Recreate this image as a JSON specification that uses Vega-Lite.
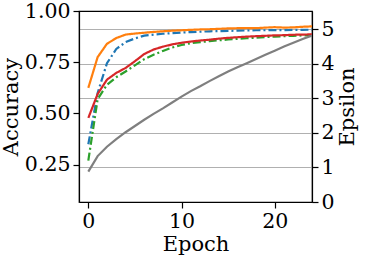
{
  "$schema": "https://vega.github.io/schema/vega-lite/v6.json",
  "width": 233,
  "height": 191,
  "autosize": {"type": "none"},
  "padding": {"left": 79, "top": 11, "right": 59, "bottom": 64},
  "background": "white",
  "config": {
    "font": "DejaVu Serif",
    "view": {"stroke": "black", "strokeWidth": 1.2},
    "axis": {
      "labelFont": "DejaVu Serif",
      "titleFont": "DejaVu Serif",
      "labelFontSize": 20.5,
      "titleFontSize": 21,
      "titleFontWeight": "normal",
      "labelColor": "black",
      "titleColor": "black",
      "domainColor": "black",
      "domainWidth": 1.2,
      "tickColor": "black",
      "tickWidth": 1.2,
      "tickSize": 6,
      "labelPadding": 3,
      "grid": false,
      "gridColor": "#b0b0b0",
      "gridWidth": 1.2
    }
  },
  "datasets": {
    "acc": [
      {"epoch":0,"model":"A","acc":0.35},{"epoch":1,"model":"A","acc":0.60},{"epoch":2,"model":"A","acc":0.745},{"epoch":3,"model":"A","acc":0.815},{"epoch":4,"model":"A","acc":0.848},{"epoch":5,"model":"A","acc":0.866},{"epoch":6,"model":"A","acc":0.88},{"epoch":7,"model":"A","acc":0.885},{"epoch":8,"model":"A","acc":0.889},{"epoch":9,"model":"A","acc":0.892},{"epoch":10,"model":"A","acc":0.895},{"epoch":11,"model":"A","acc":0.897},{"epoch":12,"model":"A","acc":0.899},{"epoch":13,"model":"A","acc":0.901},{"epoch":14,"model":"A","acc":0.902},{"epoch":15,"model":"A","acc":0.903},{"epoch":16,"model":"A","acc":0.904},{"epoch":17,"model":"A","acc":0.905},{"epoch":18,"model":"A","acc":0.906},{"epoch":19,"model":"A","acc":0.906},{"epoch":20,"model":"A","acc":0.907},{"epoch":21,"model":"A","acc":0.907},{"epoch":22,"model":"A","acc":0.908},{"epoch":23,"model":"A","acc":0.908},{"epoch":24,"model":"A","acc":0.909},
      {"epoch":0,"model":"B","acc":0.625},{"epoch":1,"model":"B","acc":0.775},{"epoch":2,"model":"B","acc":0.84},{"epoch":3,"model":"B","acc":0.868},{"epoch":4,"model":"B","acc":0.885},{"epoch":5,"model":"B","acc":0.89},{"epoch":6,"model":"B","acc":0.894},{"epoch":7,"model":"B","acc":0.898},{"epoch":8,"model":"B","acc":0.901},{"epoch":9,"model":"B","acc":0.904},{"epoch":10,"model":"B","acc":0.906},{"epoch":11,"model":"B","acc":0.908},{"epoch":12,"model":"B","acc":0.91},{"epoch":13,"model":"B","acc":0.911},{"epoch":14,"model":"B","acc":0.913},{"epoch":15,"model":"B","acc":0.915},{"epoch":16,"model":"B","acc":0.916},{"epoch":17,"model":"B","acc":0.917},{"epoch":18,"model":"B","acc":0.916},{"epoch":19,"model":"B","acc":0.919},{"epoch":20,"model":"B","acc":0.921},{"epoch":21,"model":"B","acc":0.919},{"epoch":22,"model":"B","acc":0.92},{"epoch":23,"model":"B","acc":0.923},{"epoch":24,"model":"B","acc":0.925},
      {"epoch":0,"model":"C","acc":0.27},{"epoch":1,"model":"C","acc":0.57},{"epoch":2,"model":"C","acc":0.64},{"epoch":3,"model":"C","acc":0.677},{"epoch":4,"model":"C","acc":0.705},{"epoch":5,"model":"C","acc":0.735},{"epoch":6,"model":"C","acc":0.765},{"epoch":7,"model":"C","acc":0.787},{"epoch":8,"model":"C","acc":0.805},{"epoch":9,"model":"C","acc":0.822},{"epoch":10,"model":"C","acc":0.834},{"epoch":11,"model":"C","acc":0.843},{"epoch":12,"model":"C","acc":0.848},{"epoch":13,"model":"C","acc":0.853},{"epoch":14,"model":"C","acc":0.857},{"epoch":15,"model":"C","acc":0.861},{"epoch":16,"model":"C","acc":0.864},{"epoch":17,"model":"C","acc":0.867},{"epoch":18,"model":"C","acc":0.87},{"epoch":19,"model":"C","acc":0.873},{"epoch":20,"model":"C","acc":0.875},{"epoch":21,"model":"C","acc":0.877},{"epoch":22,"model":"C","acc":0.879},{"epoch":23,"model":"C","acc":0.881},{"epoch":24,"model":"C","acc":0.882},
      {"epoch":0,"model":"D","acc":0.478},{"epoch":1,"model":"D","acc":0.595},{"epoch":2,"model":"D","acc":0.665},{"epoch":3,"model":"D","acc":0.698},{"epoch":4,"model":"D","acc":0.722},{"epoch":5,"model":"D","acc":0.755},{"epoch":6,"model":"D","acc":0.79},{"epoch":7,"model":"D","acc":0.812},{"epoch":8,"model":"D","acc":0.826},{"epoch":9,"model":"D","acc":0.837},{"epoch":10,"model":"D","acc":0.845},{"epoch":11,"model":"D","acc":0.851},{"epoch":12,"model":"D","acc":0.856},{"epoch":13,"model":"D","acc":0.86},{"epoch":14,"model":"D","acc":0.865},{"epoch":15,"model":"D","acc":0.869},{"epoch":16,"model":"D","acc":0.872},{"epoch":17,"model":"D","acc":0.875},{"epoch":18,"model":"D","acc":0.877},{"epoch":19,"model":"D","acc":0.879},{"epoch":20,"model":"D","acc":0.881},{"epoch":21,"model":"D","acc":0.882},{"epoch":22,"model":"D","acc":0.884},{"epoch":23,"model":"D","acc":0.885},{"epoch":24,"model":"D","acc":0.886}
    ],
    "eps": [
      {"epoch":0,"eps":0.88},{"epoch":1,"eps":1.33},{"epoch":2,"eps":1.6},{"epoch":3,"eps":1.82},{"epoch":4,"eps":2.02},{"epoch":5,"eps":2.2},{"epoch":6,"eps":2.38},{"epoch":7,"eps":2.55},{"epoch":8,"eps":2.71},{"epoch":9,"eps":2.88},{"epoch":10,"eps":3.05},{"epoch":11,"eps":3.21},{"epoch":12,"eps":3.35},{"epoch":13,"eps":3.5},{"epoch":14,"eps":3.64},{"epoch":15,"eps":3.78},{"epoch":16,"eps":3.9},{"epoch":17,"eps":4.02},{"epoch":18,"eps":4.14},{"epoch":19,"eps":4.26},{"epoch":20,"eps":4.38},{"epoch":21,"eps":4.5},{"epoch":22,"eps":4.61},{"epoch":23,"eps":4.72},{"epoch":24,"eps":4.82}
    ]
  },
  "layer": [
    {
      "data": {"name": "acc"},
      "mark": {"type": "line", "strokeWidth": 2.2, "clip": true},
      "encoding": {
        "x": {"field": "epoch", "type": "quantitative", "scale": {"domain": [-1, 24], "nice": false, "zero": false},
              "axis": {"title": "Epoch", "values": [0, 10, 20], "titlePadding": 2}},
        "y": {"field": "acc", "type": "quantitative", "scale": {"domain": [0.068, 1.0], "nice": false, "zero": false},
              "axis": {"title": "Accuracy", "orient": "left", "values": [0.25, 0.5, 0.75, 1.0], "format": ".2f", "titlePadding": 3}},
        "color": {"field": "model", "type": "nominal", "legend": null,
                  "scale": {"domain": ["A", "B", "C", "D"], "range": ["#1f77b4", "#ff7f0e", "#2ca02c", "#d62728"]}},
        "strokeDash": {"field": "model", "type": "nominal", "legend": null,
                  "scale": {"domain": ["A", "B", "C", "D"], "range": [[8, 3, 2, 3], [1, 0], [8, 3, 2, 3], [1, 0]]}}
      }
    },
    {
      "data": {"name": "eps"},
      "mark": {"type": "line", "strokeWidth": 2.2, "color": "#7f7f7f", "clip": true},
      "encoding": {
        "x": {"field": "epoch", "type": "quantitative"},
        "y": {"field": "eps", "type": "quantitative", "scale": {"domain": [0, 5.53], "nice": false, "zero": false},
              "axis": {"title": "Epsilon", "orient": "right", "values": [0, 1, 2, 3, 4, 5], "grid": true, "titleAngle": 270, "titlePadding": 23}}
      }
    }
  ],
  "resolve": {"scale": {"y": "independent"}}
}
